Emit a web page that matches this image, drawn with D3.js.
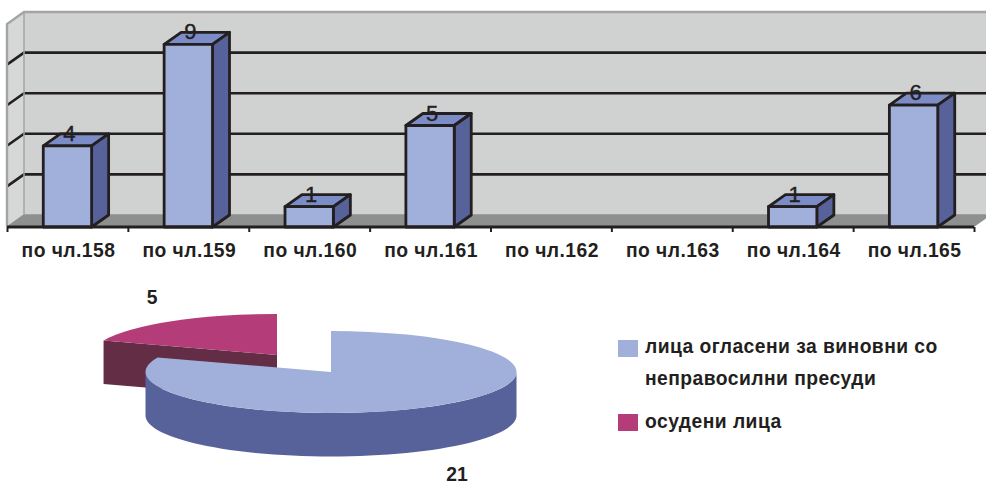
<!DOCTYPE html>
<html>
<head>
<meta charset="utf-8">
<script src="https://cdn.jsdelivr.net/npm/d3@7"></script>
<style>
html, body { margin: 0; padding: 0; background: #fff; overflow: hidden; }
text { font-family: "Liberation Sans", Arial, sans-serif; fill: #231f20; }
</style>
</head>
<body>
<div id="chart"></div>
<script>
// bar chart data (empty categories have no bar and no label)
var categories = ["по чл.158", "по чл.159", "по чл.160", "по чл.161", "по чл.162", "по чл.163", "по чл.164", "по чл.165"];
var barValues = [4, 9, 1, 5, null, null, 1, 6];
var yTicks = [2, 4, 6, 8];

// pie chart data
var pieNames = ["лица огласени за виновни со неправосилни пресуди", "осудени лица"];
var pieValues = [21, 5];
var legendLines = [["лица огласени за виновни со", "неправосилни пресуди"], ["осудени лица"]];

var svg = d3.select("#chart").append("svg")
    .attr("width", 986)
    .attr("height", 484)
    .style("display", "block");

// ---- 3D bars ----
var x0 = 7, x1 = 974, floorY = 227, topY = 24;
var depthX = 17, depthY = 12;

var x = d3.scaleBand().domain(categories).range([x0, x1]).paddingInner(0.6).paddingOuter(0.3);
var edge = d3.scaleLinear().domain([0, categories.length]).range([x0, x1]);
var y = d3.scaleLinear().domain([0, 10]).range([floorY, topY]);

var dark = "#231f20";

function poly(points) {
    return "M" + points.map(function(p) { return p[0] + "," + p[1]; }).join("L") + "Z";
}

// back wall
svg.append("path")
    .attr("d", poly([[x0 + depthX, y(10) - depthY], [1000, y(10) - depthY], [1000, y(0) - depthY], [x0 + depthX, y(0) - depthY]]))
    .attr("fill", "#d0d2d1");

// left wall
svg.append("path")
    .attr("d", poly([[x0, y(10)], [x0 + depthX, y(10) - depthY], [x0 + depthX, y(0) - depthY], [x0, y(0)]]))
    .attr("fill", "#d6d8d7");

// floor
svg.append("path")
    .attr("d", poly([[x0, y(0)], [x0 + depthX, y(0) - depthY], [x1 + depthX, y(0) - depthY], [x1, y(0)]]))
    .attr("fill", "#8e908f");

// grid lines on back wall and left wall
yTicks.concat([0]).forEach(function(t) {
    svg.append("path")
        .attr("d", "M" + x0 + "," + y(t) + "L" + (x0 + depthX) + "," + (y(t) - depthY) + "L1000," + (y(t) - depthY))
        .attr("fill", "none")
        .attr("stroke", t === 0 ? "#8e908f" : dark)
        .attr("stroke-width", t === 0 ? 1.5 : 2.6);
});

// wall outline
svg.append("path")
    .attr("d", "M" + x0 + "," + y(0) + "L" + x0 + "," + y(10) + "L" + (x0 + depthX) + "," + (y(10) - depthY) + "L1000," + (y(10) - depthY))
    .attr("fill", "none")
    .attr("stroke", "#a3a5a4")
    .attr("stroke-width", 2.4);
svg.append("line")
    .attr("x1", x0 + depthX).attr("x2", x0 + depthX)
    .attr("y1", y(10) - depthY).attr("y2", y(0) - depthY)
    .attr("stroke", "#a3a5a4")
    .attr("stroke-width", 1.5);

// bars
var barData = categories.map(function(c, i) { return { name: c, value: barValues[i] }; })
    .filter(function(d) { return d.value !== null; });

var bars = svg.selectAll(".bar").data(barData).enter().append("g").attr("class", "bar");

bars.append("path")
    .attr("d", function(d) {
        var l = x(d.name), r = l + x.bandwidth(), t = y(d.value);
        return poly([[l, t], [l + depthX, t - depthY], [r + depthX, t - depthY], [r, t]]);
    })
    .attr("fill", "#7b8cc6");
bars.append("path")
    .attr("d", function(d) {
        var r = x(d.name) + x.bandwidth(), t = y(d.value);
        return poly([[r, t], [r + depthX, t - depthY], [r + depthX, y(0) - depthY], [r, y(0)]]);
    })
    .attr("fill", "#566299");
bars.append("rect")
    .attr("x", function(d) { return x(d.name); })
    .attr("y", function(d) { return y(d.value); })
    .attr("width", x.bandwidth())
    .attr("height", function(d) { return y(0) - y(d.value); })
    .attr("fill", "#a1b0db");
bars.selectAll("path, rect")
    .attr("stroke", dark)
    .attr("stroke-width", 2.8)
    .attr("stroke-linejoin", "round");

bars.append("text")
    .attr("x", function(d) { return x(d.name) + x.bandwidth() / 2 + 2; })
    .attr("y", function(d) { return y(d.value) - 5; })
    .attr("text-anchor", "middle")
    .style("font-size", "22px")
    .style("stroke", dark)
    .style("stroke-width", 0.4)
    .text(function(d) { return d.value; });

// x axis
svg.append("g")
    .attr("transform", "translate(0," + floorY + ")")
    .call(d3.axisBottom(edge).tickValues(d3.range(0, categories.length + 1)).tickSize(5).tickFormat(""))
    .call(function(g) {
        g.selectAll(".domain").attr("stroke", dark).attr("stroke-width", 2.8).attr("d", "M" + x0 + ",0H" + x1);
        g.selectAll(".tick line").attr("stroke", dark).attr("stroke-width", 2);
    });

svg.append("g")
    .selectAll("text").data(categories).enter().append("text")
    .attr("x", function(d) { return x(d) + x.bandwidth() / 2 + 1; })
    .attr("y", 257)
    .attr("text-anchor", "middle")
    .style("font-size", "19.3px")
    .style("font-weight", "bold")
    .style("letter-spacing", "0.45px")
    .text(function(d) { return d; });

// ---- 3D pie ----
var rx = 185.5, ry = 41, pieDepth = 43.5;
var pieCx = 331, pieCy = 372;
var offX = -54, offY = -17; // exploded slice

var slices = d3.pie().sort(null)(pieValues);
var arc = d3.arc().innerRadius(0).outerRadius(rx);

function rim(a) {
    return [rx * Math.sin(a), -ry * Math.cos(a)];
}

// outer wall between two angles
function rimPath(a0, a1) {
    var pts = d3.range(0, 61).map(function(i) { return rim(a0 + (a1 - a0) * i / 60); });
    var low = pts.slice().reverse().map(function(p) { return [p[0], p[1] + pieDepth]; });
    return poly(pts.concat(low));
}

var blue = slices[0], red = slices[1];

// red slice, drawn first as it sits behind the blue one
var redG = svg.append("g").attr("transform", "translate(" + (pieCx + offX) + "," + (pieCy + offY) + ")");
var redEdge = rim(red.startAngle);
redG.append("path")
    .attr("d", poly([[0, 0], redEdge, [redEdge[0], redEdge[1] + pieDepth], [0, pieDepth]]))
    .attr("fill", "#632d45");
redG.append("path")
    .attr("transform", "scale(1," + (ry / rx) + ")")
    .attr("d", arc(red))
    .attr("fill", "#b43c78");

// blue slice
var blueG = svg.append("g").attr("transform", "translate(" + pieCx + "," + pieCy + ")");
blueG.append("path")
    .attr("d", rimPath(Math.PI / 2, blue.endAngle > 1.5 * Math.PI ? 1.5 * Math.PI : blue.endAngle))
    .attr("fill", "#566299");
blueG.append("path")
    .attr("transform", "scale(1," + (ry / rx) + ")")
    .attr("d", arc(blue))
    .attr("fill", "#a1b0db");

// pie value labels
svg.append("text").attr("x", 152).attr("y", 304).attr("text-anchor", "middle")
    .style("font-size", "19.3px").style("font-weight", "bold").text(pieValues[1]);
svg.append("text").attr("x", 457).attr("y", 481).attr("text-anchor", "middle")
    .style("font-size", "19.3px").style("font-weight", "bold").text(pieValues[0]);

// legend
var legendColors = ["#a1b0db", "#b43c78"];
var legendSwatchY = d3.scaleOrdinal().domain(pieNames).range([340, 414]);
var legendTextY = [[353, 385], [428]];

pieNames.forEach(function(name, i) {
    svg.append("rect")
        .attr("x", 618).attr("y", legendSwatchY(name))
        .attr("width", 20).attr("height", 17)
        .attr("fill", legendColors[i]);
    legendLines[i].forEach(function(line, j) {
        svg.append("text")
            .attr("x", 645).attr("y", legendTextY[i][j])
            .style("font-size", "19.3px")
            .style("font-weight", "bold")
            .style("letter-spacing", "0.45px")
            .text(line);
    });
});
</script>
</body>
</html>
